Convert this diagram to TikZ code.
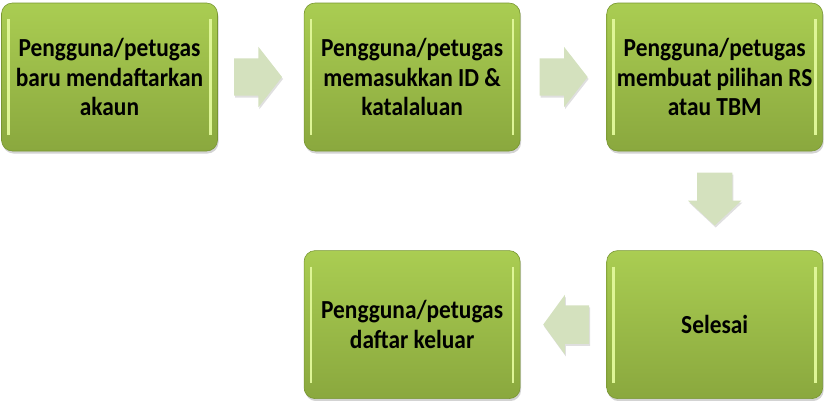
\documentclass[tikz,border=0pt]{standalone}
\usepackage{fontspec}
\setmainfont{Carlito}
\newfontfamily\boxfont{Carlito}[FakeStretch=0.9]
\usetikzlibrary{positioning,shapes.arrows,shadows}

\definecolor{boxtop}{RGB}{170,205,82}
\definecolor{boxbot}{RGB}{138,168,62}
\definecolor{boxedge}{RGB}{120,150,50}
\definecolor{boxhi}{RGB}{222,245,150}
\definecolor{arrowfill}{RGB}{212,225,190}

\begin{document}
\begin{tikzpicture}[x=1pt, y=-1pt, node distance=86pt,
                        stepbox/.style={rectangle, rounded corners=11pt, minimum width=216pt, minimum height=148pt,
                        top color=boxtop, bottom color=boxbot, draw=boxedge, line width=0.6pt,
                        align=center, inner sep=0pt,
                        font=\boxfont\fontsize{26}{29.5}\selectfont\bfseries,
                        drop shadow={shadow xshift=1pt, shadow yshift=-2.5pt, opacity=0.35},
                        path picture={
                          \draw[boxhi, line width=2.5pt] ([xshift=7pt,yshift=-16pt]path picture bounding box.north west) -- ([xshift=7pt,yshift=16pt]path picture bounding box.south west);
                          \draw[boxhi, line width=2.5pt] ([xshift=-7pt,yshift=-16pt]path picture bounding box.north east) -- ([xshift=-7pt,yshift=16pt]path picture bounding box.south east);
                        }},
                        blockarrow/.style={single arrow, minimum height=48pt, inner xsep=0pt, inner ysep=18.5pt,
                        single arrow head extend=11.5pt, single arrow tip angle=104, fill=arrowfill,
                        drop shadow={shadow xshift=1pt, shadow yshift=-2pt, opacity=0.25}}
                        ]
    \useasboundingbox (0,0) rectangle (826,400);
    \node (daftar) [stepbox] at (109.5,77) {Pengguna/petugas\\baru mendaftarkan\\akaun};
    \node (masuk) [stepbox,right=of daftar] {Pengguna/petugas\\memasukkan ID \&\\katalaluan};
    \node (pilih) [stepbox,right=of masuk] {Pengguna/petugas\\membuat pilihan RS\\atau TBM};
    \node (selesai) [stepbox,below=99pt of pilih] {Selesai};
    \node (keluar) [stepbox,left=of selesai] {Pengguna/petugas\\daftar keluar};
    % anak panah antara kotak
    \node (a1) [blockarrow,right=16pt of daftar] {};
    \node (a2) [blockarrow,right=19pt of masuk] {};
    \node (a3) [blockarrow,shape border rotate=270,minimum height=53pt,inner xsep=17.5pt,inner ysep=0pt,single arrow head extend=9pt,single arrow tip angle=94,below=21pt of pilih] {};
    \node (a4) [blockarrow,shape border rotate=180,minimum height=46pt,inner ysep=19pt,single arrow head extend=10.5pt,single arrow tip angle=108,left=17pt of selesai] {};
\end{tikzpicture}
\end{document}
